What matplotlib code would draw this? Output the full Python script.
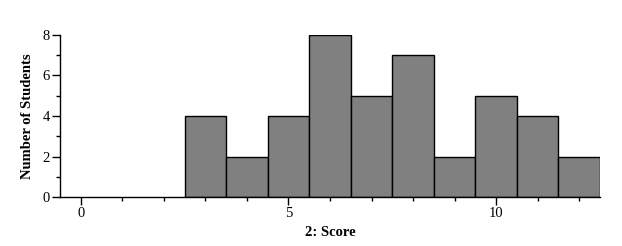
import numpy as np
import matplotlib.pyplot as plt
from matplotlib.ticker import MultipleLocator

# histogram bins (centres) and counts
scores = [3, 4, 5, 6, 7, 8, 9, 10, 11, 12]
counts = [4, 2, 4, 8, 5, 7, 2, 5, 4, 2]

plt.rcParams["font.family"] = ["Liberation Serif", "DejaVu Serif"]

fig = plt.figure(figsize=(6.22, 2.46), dpi=100)
ax = fig.add_axes([60 / 622, 1 - 197 / 246, 540 / 622, 162 / 246])

ax.bar(scores, counts, width=1.0, color="#808080", edgecolor="black", linewidth=1.0)

ax.set_xlim(-0.5, 12.5)
ax.set_ylim(0, 8)
ax.xaxis.set_major_locator(MultipleLocator(5))
ax.xaxis.set_minor_locator(MultipleLocator(1))
ax.yaxis.set_major_locator(MultipleLocator(2))
ax.yaxis.set_minor_locator(MultipleLocator(1))

for s in ["top", "right"]:
    ax.spines[s].set_visible(False)
for s in ["left", "bottom"]:
    ax.spines[s].set_linewidth(1.0)

ax.tick_params(which="major", length=5.5, width=1, labelsize=10.5, pad=2)
ax.tick_params(which="minor", length=2.8, width=1)

ax.set_xlabel("2: Score", fontsize=10.5, fontweight="bold", labelpad=4)
ax.set_ylabel("Number of Students", fontsize=10.5, fontweight="bold", labelpad=6)

fig.savefig("out.png", dpi=100)
